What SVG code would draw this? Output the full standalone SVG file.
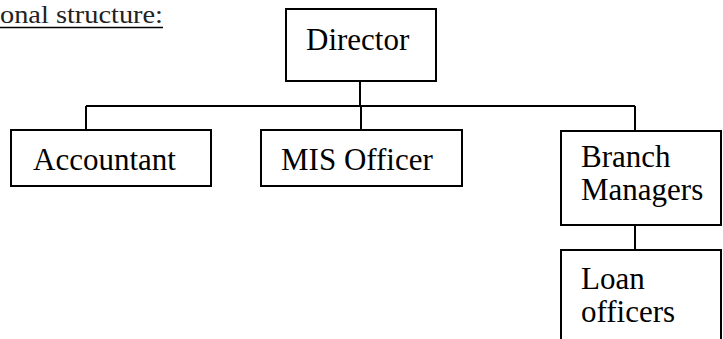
<svg xmlns="http://www.w3.org/2000/svg" width="723" height="339" viewBox="0 0 723 339">
<style>
.box{fill:#fff;stroke:#000;stroke-width:2}
.ln{fill:none;stroke:#000;stroke-width:2}
.t{font-family:"Liberation Serif","Times New Roman",serif;font-size:31px;fill:#000}
.h{font-family:"Liberation Serif","Times New Roman",serif;font-size:25px;fill:#222}
</style>
<rect width="723" height="339" fill="#fff"/>
<g id="heading">
<text class="h" x="0" y="23" textLength="163" lengthAdjust="spacingAndGlyphs">onal structure:</text>
<line x1="0" y1="27.5" x2="163" y2="27.5" stroke="#000" stroke-width="1.5"/>
</g>
<g id="connectors">
<path class="ln" d="M360 81V106M86 106H635M86 106V130M361 106V130M635 106V131M635 225V250"/>
</g>
<g id="director">
<rect class="box" x="286" y="9" width="150" height="72"/>
<text class="t" x="306" y="50">Director</text>
</g>
<g id="accountant">
<rect class="box" x="11" y="130" width="200" height="56"/>
<text class="t" x="33" y="170">Accountant</text>
</g>
<g id="mis-officer">
<rect class="box" x="261" y="130" width="201" height="56"/>
<text class="t" x="281" y="170">MIS Officer</text>
</g>
<g id="branch-managers">
<rect class="box" x="561" y="131" width="160" height="94"/>
<text class="t" x="581" y="167">Branch</text>
<text class="t" x="581" y="200">Managers</text>
</g>
<g id="loan-officers">
<path class="ln" d="M561 345V250H721V345"/>
<text class="t" x="581" y="289">Loan</text>
<text class="t" x="581" y="322">officers</text>
</g>
</svg>
